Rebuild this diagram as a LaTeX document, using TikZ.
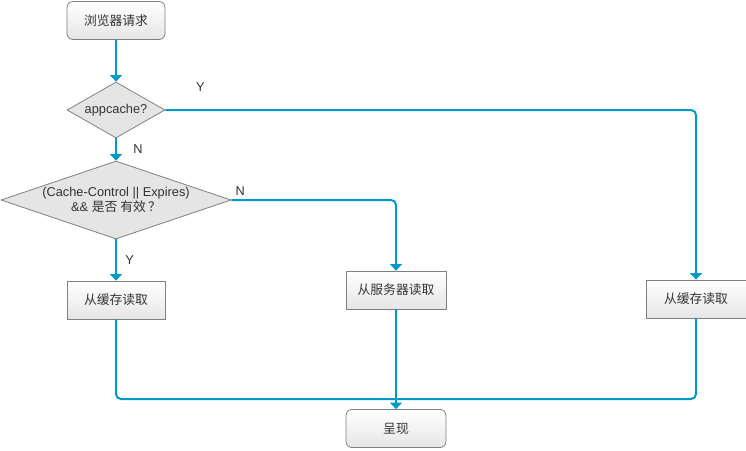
\documentclass[tikz,border=0pt]{standalone}
\usepackage{fontspec}
\setmainfont{Liberation Sans}
\newfontfamily\cjk{Noto Sans CJK SC}
\usetikzlibrary{shapes.geometric,arrows.meta}
\definecolor{flowblue}{RGB}{0,153,204}
\definecolor{edgegray}{RGB}{128,128,128}
\definecolor{textgray}{RGB}{51,51,51}
\begin{document}
\begin{tikzpicture}[x=1pt,y=-1pt]
  \tikzstyle{every node}+=[text=textgray,font=\fontsize{12.8}{15.5}\selectfont]
  \tikzstyle{stepbox}=[draw=edgegray,line width=0.8pt,top color=white,bottom color=black!10,minimum width=98pt,minimum height=38pt,inner sep=0pt]
  \tikzstyle{endbox}=[stepbox,rounded corners=6pt]
  \tikzstyle{ask}=[diamond,draw=edgegray,line width=0.8pt,fill=black!10,inner sep=0pt,align=center]
  \tikzstyle{flow}=[flowblue,line width=2pt,rounded corners=5pt,-{Triangle[width=12pt,length=6.5pt]}]
  \tikzstyle{flowline}=[flowblue,line width=2pt,rounded corners=5pt]
  \useasboundingbox (0,0) rectangle (746,450);
  \node [endbox] (start) at (116,20.5) {\cjk 浏览器请求};
  \node [ask,aspect=1.75,minimum width=98pt,minimum height=56pt] (app) at (116,110) {appcache?};
  \node [ask,aspect=2.95,minimum width=230pt,minimum height=78pt] (ctrl) at (116,200) {(Cache-Control || Expires)\\\&\& {\cjk 是否 有效\,？}};
  \node [stepbox] (lcache) at (116,300) {\cjk 从缓存读取};
  \node [stepbox,minimum width=100pt] (server) at (396,290) {\cjk 从服务器读取};
  \node [stepbox,minimum width=100pt] (rcache) at (696,299) {\cjk 从缓存读取};
  \node [endbox,minimum width=100pt] (show) at (396,428.5) {\cjk 呈现};
  \coordinate (merge) at (396,399);
  \draw [flow] (start) -- (app);
  \draw [flow] (app) -- node [midway,right=13pt] {N} (ctrl);
  \draw [flow] (app.east) -| node [pos=0.033,above=14pt] {Y} (rcache);
  \draw [flow] (ctrl.east) -| node [pos=0,above right] {N} (server);
  \draw [flow] (ctrl) -- node [midway,right=5pt] {Y} (lcache);
  \draw [flowline] (lcache) |- (merge);
  \draw [flowline] (rcache) |- (merge);
  \draw [flow] (server) -- (show);
\end{tikzpicture}
\end{document}
